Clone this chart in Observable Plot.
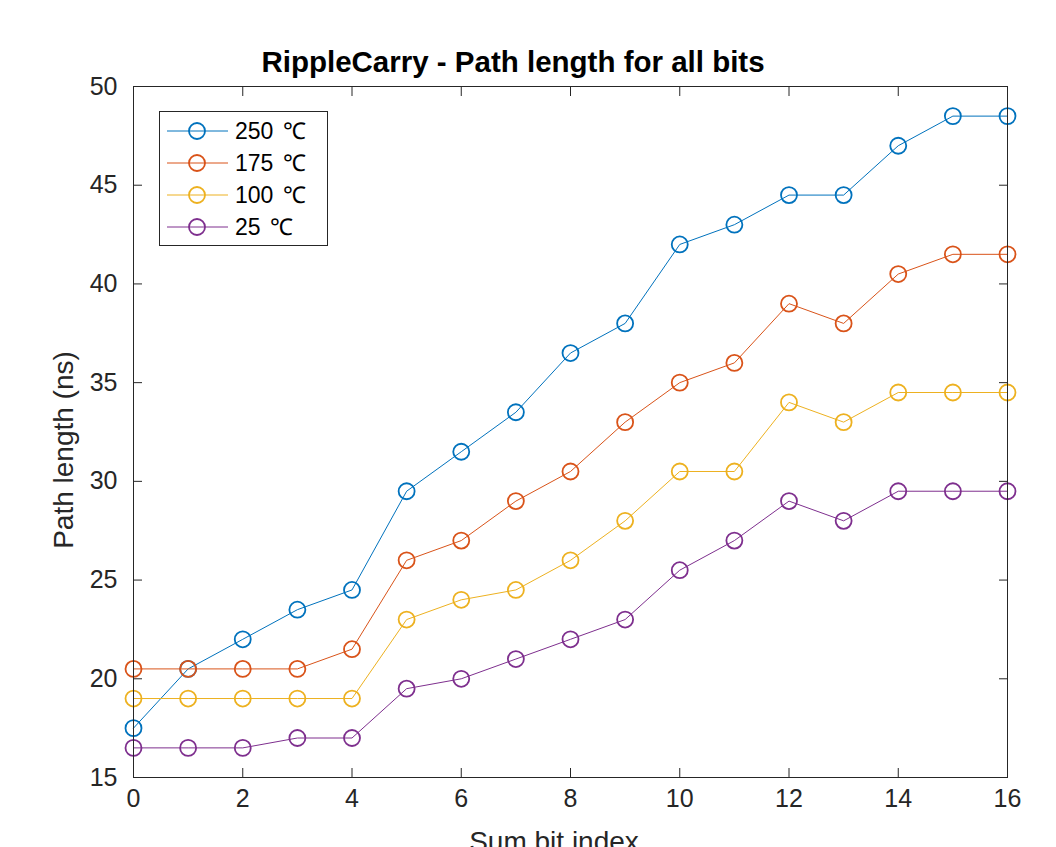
<!DOCTYPE html>
<html>
<head>
<meta charset="utf-8">
<script src="https://cdn.jsdelivr.net/npm/d3@7"></script>
<script src="https://cdn.jsdelivr.net/npm/@observablehq/plot@0.6"></script>
<style>
  html, body { margin: 0; padding: 0; background: #fff; }
  #chart { position: relative; width: 1056px; height: 847px; overflow: hidden; }
</style>
</head>
<body>
<div id="chart"></div>
<script>
const bits = [0,1,2,3,4,5,6,7,8,9,10,11,12,13,14,15,16];
const seriesNames = ["250 \u2103", "175 \u2103", "100 \u2103", "25 \u2103"];
const seriesColors = ["#0072BD", "#D95319", "#EDB120", "#7E2F8E"];
const t250 = [17.5, 20.5, 22, 23.5, 24.5, 29.5, 31.5, 33.5, 36.5, 38, 42, 43, 44.5, 44.5, 47, 48.5, 48.5];
const t175 = [20.5, 20.5, 20.5, 20.5, 21.5, 26, 27, 29, 30.5, 33, 35, 36, 39, 38, 40.5, 41.5, 41.5];
const t100 = [19, 19, 19, 19, 19, 23, 24, 24.5, 26, 28, 30.5, 30.5, 34, 33, 34.5, 34.5, 34.5];
const t25 = [16.5, 16.5, 16.5, 17, 17, 19.5, 20, 21, 22, 23, 25.5, 27, 29, 28, 29.5, 29.5, 29.5];
const xTicks = [0,2,4,6,8,10,12,14,16];
const yTicks = [15,20,25,30,35,40,45,50];
const titleText = "RippleCarry - Path length for all bits";
const xLabel = "Sum bit index";
const yLabel = "Path length (ns)";

const allSeries = [t250, t175, t100, t25];
const rows = [];
allSeries.forEach((vals, i) => vals.forEach((v, j) => rows.push({bit: bits[j], value: v, series: seriesNames[i]})));

const axisColor = "#262626";
const font = "'Liberation Sans', Arial, Helvetica, sans-serif";

const W = 1056, H = 847;
const mL = 133, mR = 49, mT = 86, mB = 70;

const marks = [];
seriesNames.forEach((name, i) => {
  const d = rows.filter(r => r.series === name);
  marks.push(Plot.line(d, {x: "bit", y: "value", stroke: seriesColors[i], strokeWidth: 1}));
  marks.push(Plot.dot(d, {x: "bit", y: "value", r: 8, stroke: seriesColors[i], strokeWidth: 1.8, fill: "none"}));
});

const plot = Plot.plot({
  width: W, height: H,
  marginLeft: mL, marginRight: mR, marginTop: mT, marginBottom: mB,
  style: {background: "#fff", fontFamily: font, color: axisColor, overflow: "visible"},
  x: {domain: [0, 16], ticks: xTicks},
  y: {domain: [15, 50], ticks: yTicks},
  marks: [
    ...marks,
    Plot.frame({stroke: axisColor, strokeWidth: 1}),
    Plot.axisX(xTicks, {anchor: "bottom", tickSize: 0, tickPadding: 12, fontSize: 25, label: null, fill: axisColor}),
    Plot.axisY(yTicks, {anchor: "left", tickSize: 0, tickPadding: 16, fontSize: 25, label: null, fill: axisColor}),
    Plot.axisX(xTicks, {anchor: "bottom", tickSize: -9, tickFormat: () => "", label: null, stroke: axisColor}),
    Plot.axisX(xTicks, {anchor: "top", tickSize: -9, tickFormat: () => "", label: null, stroke: axisColor}),
    Plot.axisY(yTicks, {anchor: "left", tickSize: -9, tickFormat: () => "", label: null, stroke: axisColor}),
    Plot.axisY(yTicks, {anchor: "right", tickSize: -9, tickFormat: () => "", label: null, stroke: axisColor})
  ]
});

document.getElementById("chart").appendChild(plot);

const svg = d3.select(plot);
svg.append("text").attr("x", 513).attr("y", 72).attr("text-anchor", "middle")
  .attr("font-family", font).attr("font-size", 29.5).attr("font-weight", "bold").attr("fill", "#000")
  .text(titleText);
svg.append("text").attr("x", 554).attr("y", 851).attr("text-anchor", "middle")
  .attr("font-family", font).attr("font-size", 28).attr("fill", axisColor)
  .text(xLabel);
svg.append("text").attr("transform", "translate(73,450) rotate(-90)").attr("text-anchor", "middle")
  .attr("font-family", font).attr("font-size", 28).attr("fill", axisColor)
  .text(yLabel);

const lg = svg.append("g").attr("transform", "translate(159,111)");
lg.append("rect").attr("x", 0.5).attr("y", 0.5).attr("width", 168).attr("height", 134)
  .attr("fill", "#fff").attr("stroke", axisColor).attr("stroke-width", 1);
seriesNames.forEach((name, i) => {
  const cy = 20 + i * 32;
  const g = lg.append("g");
  g.append("line").attr("x1", 8).attr("x2", 69).attr("y1", cy).attr("y2", cy)
    .attr("stroke", seriesColors[i]).attr("stroke-width", 1);
  g.append("circle").attr("cx", 38).attr("cy", cy).attr("r", 8)
    .attr("fill", "none").attr("stroke", seriesColors[i]).attr("stroke-width", 1.8);
  g.append("text").attr("x", 76).attr("y", cy + 8).attr("text-anchor", "start")
    .attr("font-family", font).attr("font-size", 23).attr("word-spacing", 3).attr("fill", "#000")
    .text(name);
});
</script>
</body>
</html>
